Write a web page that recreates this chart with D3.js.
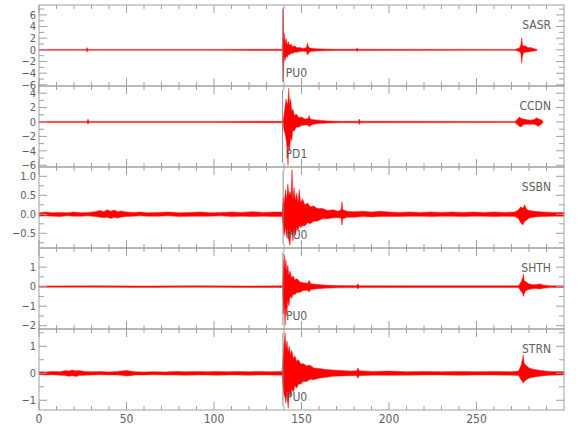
<!DOCTYPE html>
<html><head><meta charset="utf-8">
<script src="https://cdn.jsdelivr.net/npm/d3@7"></script>
<style>
body{margin:0;background:#fff;}
text{font-family:"Liberation Sans Narrow","DejaVu Sans Condensed","Roboto Condensed",sans-serif;fill:#606060;}
</style></head>
<body><svg id="c" width="580" height="440"></svg>
<script>
// ---- data ----
const stations = ["SASR","CCDN","SSBN","SHTH","STRN"];
const picks = ["PU0","PD1","PU0","PU0","PU0"];
const pickTime = [139.3,139.2,139.5,139.4,139.4];
const yDomains = [[-6.2,7.7],[-6.25,5.0],[-0.887,1.245],[-2.17,1.98],[-1.36,1.64]];
const yMajor = [[-6,-4,-2,0,2,4,6],[-6,-4,-2,0,2,4],[-0.5,0,0.5,1.0],[-2,-1,0,1],[-1,0,1]];
const yMinor = [[-6,-5,-4,-3,-2,-1,0,1,2,3,4,5,6,7],[-6,-5,-4,-3,-2,-1,0,1,2,3,4],[-0.75,-0.5,-0.25,0,0.25,0.5,0.75,1.0],[-2,-1.5,-1,-0.5,0,0.5,1,1.5],[-1,-0.5,0,0.5,1,1.5]];
const yLabels = [["−6","−4","−2","0","2","4","6"],["−6","−4","−2","0","2","4"],["−0.5","0.0","0.5","1.0"],["−2","−1","0","1"],["−1","0","1"]];
const xTicks = [0,50,100,150,200,250];
const xMinor = [0,10,20,30,40,50,60,70,80,90,100,110,120,130,140,150,160,170,180,190,200,210,220,230,240,250,260,270,280,290];

// envelopes: [time, upper, lower]
const SASR = [[0,0.08,-0.08],[27,0.08,-0.08],[27.5,0.4,-0.35],[28,0.08,-0.08],[100,0.08,-0.08],[138.9,0.1,-0.1],
 [139.3,3.0,-2.0],[139.6,7.3,-5.5],[139.9,1.5,-2.5],[140.3,2.8,-1.2],[140.7,1.2,-1.8],[141.2,1.9,-1.0],[141.8,0.9,-1.3],[142.5,1.4,-0.8],
 [143.2,0.7,-0.9],[144,1.0,-0.6],[145,0.5,-0.6],[146,0.7,-0.4],[147.5,0.35,-0.4],[149,0.4,-0.3],[151,0.25,-0.25],[152.8,0.4,-0.3],
 [153.4,1.2,-0.9],[154,0.5,-0.6],[155,0.3,-0.3],[158,0.2,-0.2],[162,0.15,-0.15],[170,0.1,-0.1],[181.3,0.1,-0.1],[181.8,0.35,-0.3],
 [182.3,0.1,-0.1],[272,0.08,-0.08],[274.5,0.3,-0.3],[275.3,0.8,-0.6],[275.8,2.1,-2.3],[276.3,0.9,-1.0],[277,0.6,-0.5],[278,0.7,-0.4],
 [279.5,0.35,-0.35],[281,0.4,-0.3],[283,0.2,-0.2],[284.5,0.1,-0.1]];
const CCDN = [[0,0.08,-0.08],[27.5,0.08,-0.08],[28,0.4,-0.3],[28.5,0.08,-0.08],[100,0.08,-0.08],[139.5,0.1,-0.1],[140,1.0,-1.2],
 [140.6,2.2,-1.6],[141.2,3.2,-2.5],[141.8,2.4,-3.8],[142.3,3.0,-6.0],[142.7,4.7,-3.2],[143.2,2.5,-4.0],[143.8,3.2,-2.2],[144.4,1.6,-2.6],
 [145,1.8,-1.2],[146,0.9,-1.2],[147,1.1,-0.7],[148.5,0.6,-0.7],[150,0.7,-0.5],[152,0.4,-0.4],[153.8,0.5,-0.4],[154.4,0.9,-0.7],
 [155,0.4,-0.5],[157,0.3,-0.3],[160,0.25,-0.2],[165,0.15,-0.15],[172,0.1,-0.1],[182.5,0.1,-0.1],[183,0.4,-0.35],[183.5,0.1,-0.1],
 [272,0.08,-0.08],[273.5,0.4,-0.4],[274.5,0.7,-0.6],[275.5,0.5,-0.7],[277,0.4,-0.35],[279,0.3,-0.3],[281,0.25,-0.3],[283,0.35,-0.3],
 [284.5,0.6,-0.5],[285.5,0.4,-0.6],[287,0.3,-0.3],[288,0.08,-0.08]];
const SSBN = [[0,0.04,-0.05],[4,0.06,-0.04],[8,0.04,-0.05],[12,0.05,-0.06],[16,0.04,-0.04],[20,0.06,-0.05],[24,0.04,-0.05],[28,0.05,-0.04],
 [32,0.07,-0.06],[35,0.1,-0.08],[37,0.07,-0.09],[39,0.12,-0.08],[41,0.08,-0.11],[43,0.11,-0.08],[45,0.07,-0.1],[47,0.09,-0.07],
 [50,0.06,-0.06],[54,0.05,-0.05],[58,0.06,-0.04],[62,0.04,-0.05],[68,0.05,-0.05],[74,0.06,-0.04],[80,0.04,-0.06],[86,0.05,-0.05],
 [92,0.06,-0.05],[98,0.04,-0.05],[104,0.05,-0.04],[110,0.06,-0.06],[116,0.05,-0.05],[122,0.07,-0.06],[128,0.05,-0.05],[134,0.06,-0.06],
 [139,0.06,-0.06],[139.6,0.45,-0.4],[140.2,0.3,-0.55],[140.8,0.65,-0.35],[141.5,0.4,-0.6],[142.2,0.8,-0.5],[142.8,0.5,-0.7],
 [143.4,0.6,-0.81],[144,0.5,-0.45],[144.6,1.18,-0.5],[145.1,0.4,-0.7],[145.8,0.7,-0.4],[146.5,0.35,-0.55],[147.3,0.55,-0.35],
 [148,0.3,-0.45],[148.7,0.65,-0.3],[149.5,0.3,-0.35],[150.5,0.4,-0.3],[152,0.25,-0.3],[153.5,0.3,-0.22],[155,0.2,-0.25],
 [157,0.22,-0.18],[159,0.15,-0.18],[162,0.15,-0.12],[165,0.1,-0.12],[168,0.12,-0.09],[171,0.08,-0.09],[172.6,0.12,-0.1],
 [173.1,0.33,-0.28],[173.6,0.12,-0.12],[176,0.08,-0.08],[180,0.07,-0.08],[185,0.08,-0.06],[190,0.06,-0.07],[195,0.08,-0.06],
 [200,0.06,-0.06],[206,0.05,-0.06],[212,0.06,-0.05],[218,0.05,-0.05],[224,0.06,-0.06],[230,0.05,-0.05],[236,0.06,-0.05],
 [242,0.05,-0.06],[248,0.06,-0.05],[254,0.05,-0.05],[260,0.06,-0.06],[266,0.05,-0.05],[272,0.06,-0.06],[274,0.12,-0.12],
 [275.3,0.2,-0.22],[276.5,0.16,-0.28],[277.5,0.25,-0.18],[278.5,0.14,-0.16],[280,0.1,-0.1],[283,0.08,-0.07],[288,0.06,-0.06],
 [294,0.05,-0.05],[300,0.05,-0.05]];
const SHTH = [[0,0.03,-0.03],[30,0.04,-0.03],[60,0.03,-0.04],[90,0.04,-0.03],[120,0.03,-0.04],[139.2,0.04,-0.04],[139.6,1.0,-1.4],
 [140.1,1.66,-1.0],[140.6,0.9,-2.0],[141.1,1.4,-1.1],[141.6,0.8,-1.5],[142.2,1.1,-0.7],[142.8,0.6,-1.0],[143.5,0.8,-0.5],
 [144.3,0.45,-0.6],[145.2,0.55,-0.4],[146.2,0.35,-0.4],[147.5,0.4,-0.3],[149,0.25,-0.3],[151,0.2,-0.2],[153.5,0.18,-0.18],
 [154.4,0.32,-0.28],[155.3,0.15,-0.15],[158,0.12,-0.12],[163,0.08,-0.08],[170,0.06,-0.06],[181.5,0.05,-0.05],[182.2,0.15,-0.12],
 [182.9,0.05,-0.05],[220,0.04,-0.04],[260,0.04,-0.04],[274,0.05,-0.05],[275.5,0.25,-0.25],[276.4,0.45,-0.35],[276.8,0.65,-0.5],
 [277.3,0.3,-0.35],[278.2,0.25,-0.2],[280,0.14,-0.14],[283,0.1,-0.1],[286.5,0.14,-0.12],[288,0.08,-0.08],[292,0.05,-0.05],[300,0.04,-0.04]];
const STRN = [[0,0.06,-0.05],[4,0.05,-0.06],[8,0.07,-0.05],[12,0.06,-0.07],[15,0.1,-0.08],[17,0.08,-0.11],[19,0.12,-0.09],[21,0.09,-0.12],
 [23,0.1,-0.08],[26,0.07,-0.07],[30,0.06,-0.06],[35,0.07,-0.05],[40,0.05,-0.06],[45,0.07,-0.06],[48,0.09,-0.08],[50,0.1,-0.1],
 [52,0.08,-0.09],[55,0.06,-0.06],[60,0.05,-0.06],[66,0.06,-0.05],[72,0.05,-0.06],[78,0.07,-0.06],[84,0.06,-0.07],[90,0.07,-0.06],
 [96,0.06,-0.06],[102,0.07,-0.07],[108,0.06,-0.06],[114,0.07,-0.06],[120,0.06,-0.07],[126,0.07,-0.06],[132,0.06,-0.06],[139,0.07,-0.07],
 [139.5,0.6,-0.5],[140,1.1,-0.8],[140.6,1.5,-0.9],[141.1,0.9,-1.1],[141.7,1.2,-0.8],[142.4,0.8,-1.3],[143,1.0,-0.7],[143.7,0.7,-0.9],
 [144.5,0.85,-0.6],[145.3,0.55,-0.7],[146.2,0.65,-0.45],[147.2,0.45,-0.55],[148.3,0.5,-0.4],[149.5,0.35,-0.4],[151,0.35,-0.3],
 [153,0.28,-0.3],[155,0.3,-0.22],[157,0.2,-0.24],[160,0.18,-0.18],[164,0.14,-0.15],[168,0.12,-0.11],[173,0.1,-0.1],[178,0.08,-0.09],
 [181.5,0.09,-0.09],[182.2,0.2,-0.18],[183,0.09,-0.09],[190,0.07,-0.07],[200,0.08,-0.07],[210,0.06,-0.07],[220,0.07,-0.06],
 [230,0.06,-0.06],[240,0.07,-0.07],[250,0.06,-0.06],[260,0.07,-0.06],[270,0.06,-0.07],[274,0.08,-0.08],[275.5,0.3,-0.25],
 [276.2,0.5,-0.3],[276.7,0.68,-0.37],[277.3,0.35,-0.3],[278.3,0.3,-0.25],[280,0.2,-0.18],[283,0.14,-0.14],[287,0.1,-0.1],
 [292,0.07,-0.07],[300,0.06,-0.06]];
const traces = [SASR,CCDN,SSBN,SHTH,STRN];

// ---- layout ----
const L=39, R=564, TOP=5, PH=81;
const svg = d3.select("#c");
const x = d3.scaleLinear().domain([0,300]).range([L,R]);
const axisCol="#a0a0a0";

traces.forEach((tr,i)=>{
  const y0=TOP+i*PH, y1=y0+PH;
  const y = d3.scaleLinear().domain(yDomains[i]).range([y1,y0]);
  const g = svg.append("g");
  const area = d3.area().x(d=>x(d[0])).y0(d=>y(d[2])).y1(d=>y(d[1]));
  g.append("path").datum(tr).attr("d",area).attr("fill","#ff0000").attr("stroke","#ff1a1a").attr("stroke-width",0.5);
  const px = x(pickTime[i]);
  g.append("line").attr("x1",px).attr("x2",px).attr("y1",y0+4).attr("y2",y1-4).attr("stroke","#8c8c8c").attr("stroke-width",1);
  g.append("text").attr("x",px+3).attr("y",y1-9).attr("font-size",12).text(picks[i]);
  g.append("text").attr("x",551).attr("y",y0+24).attr("text-anchor","end").attr("font-size",12).text(stations[i]);
  g.append("rect").attr("x",L).attr("y",y0).attr("width",R-L).attr("height",PH).attr("fill","none").attr("stroke",axisCol).attr("stroke-width",1);
  xMinor.forEach(t=>{
    const len = t%50===0?8:4;
    g.append("line").attr("x1",x(t)).attr("x2",x(t)).attr("y1",y1).attr("y2",y1-len).attr("stroke",axisCol);
    g.append("line").attr("x1",x(t)).attr("x2",x(t)).attr("y1",y0).attr("y2",y0+len).attr("stroke",axisCol);
  });
  yMinor[i].forEach(v=>{
    const maj = yMajor[i].includes(v);
    const len = maj?8:5;
    g.append("line").attr("x1",L).attr("x2",L+len).attr("y1",y(v)).attr("y2",y(v)).attr("stroke",axisCol);
    g.append("line").attr("x1",R).attr("x2",R-len).attr("y1",y(v)).attr("y2",y(v)).attr("stroke",axisCol);
  });
  yMajor[i].forEach((v,k)=>{
    g.append("text").attr("x",L-3).attr("y",y(v)+3.8).attr("text-anchor","end").attr("font-size",11).text(yLabels[i][k]);
  });
});
xTicks.forEach(t=>{
  svg.append("text").attr("x",x(t)).attr("y",423).attr("text-anchor","middle").attr("font-size",12).text(t);
});
</script></body></html>
